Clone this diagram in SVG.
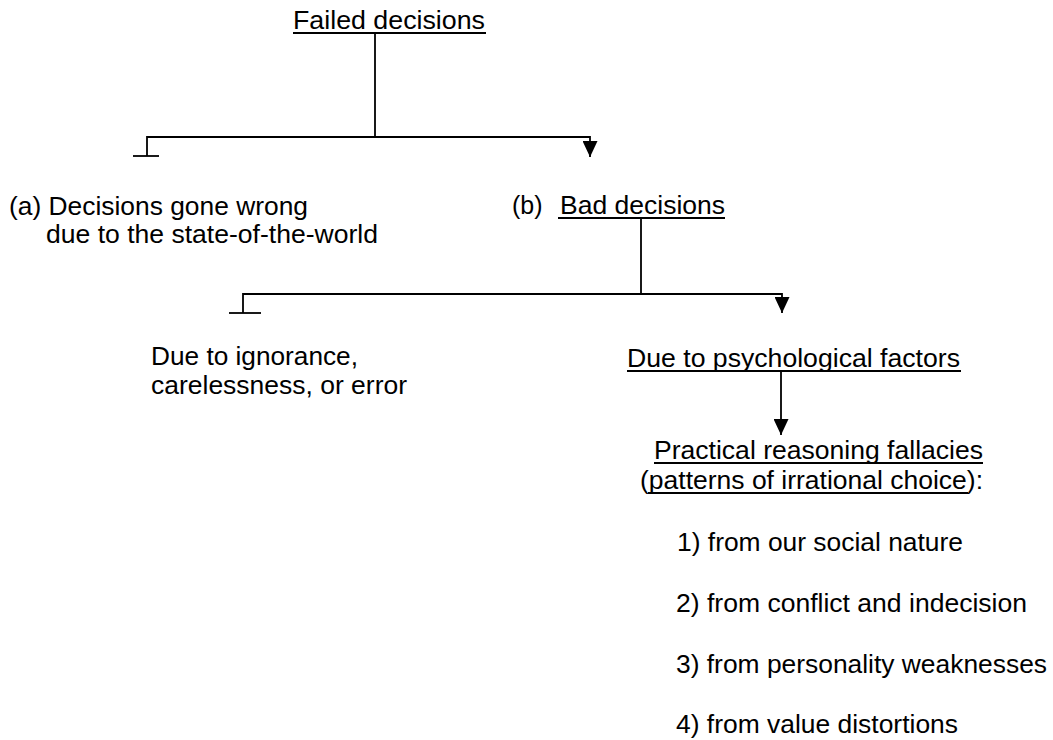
<svg xmlns="http://www.w3.org/2000/svg" width="1053" height="740" viewBox="0 0 1053 740">
<style>
text { font-family: "Liberation Sans", Arial, sans-serif; font-size: 25px; fill: #000; }
.ln { fill: none; stroke: #000; stroke-width: 1.8; }
.ul { stroke: #000; stroke-width: 1.8; }
</style>
<defs>
<marker id="arrow" markerUnits="userSpaceOnUse" markerWidth="16" markerHeight="15" refX="16" refY="7.5" orient="auto">
<path d="M0,0 L16,7.5 L0,15 Z" fill="#000"/>
</marker>
</defs>
<g id="connectors">
<path class="ln" d="M375,33 V137"/>
<path class="ln" d="M375,137 H147 V156"/>
<path class="ln" d="M133,156 H159"/>
<path class="ln" d="M375,137 H590 V157" marker-end="url(#arrow)"/>
<path class="ln" d="M641,218 V294"/>
<path class="ln" d="M641,294 H243 V313"/>
<path class="ln" d="M229,313 H261"/>
<path class="ln" d="M641,294 H782 V313" marker-end="url(#arrow)"/>
<path class="ln" d="M781,371 V435" marker-end="url(#arrow)"/>
</g>
<g id="failed">
<text x="293" y="29" textLength="192" lengthAdjust="spacingAndGlyphs">Failed decisions</text>
<line class="ul" x1="293" y1="33" x2="486" y2="33"/>
</g>
<g id="wrong">
<text x="9" y="215" textLength="299" lengthAdjust="spacingAndGlyphs">(a) Decisions gone wrong</text>
<text x="46" y="243" textLength="332" lengthAdjust="spacingAndGlyphs">due to the state-of-the-world</text>
</g>
<g id="bad">
<text x="512" y="214">(b)<tspan x="560" textLength="165" lengthAdjust="spacingAndGlyphs">Bad decisions</tspan></text>
<line class="ul" x1="558" y1="218" x2="725" y2="218"/>
</g>
<g id="ignorance">
<text x="151" y="365" textLength="207" lengthAdjust="spacingAndGlyphs">Due to ignorance,</text>
<text x="151" y="394" textLength="256" lengthAdjust="spacingAndGlyphs">carelessness, or error</text>
</g>
<g id="psych">
<text x="627" y="367" textLength="333" lengthAdjust="spacingAndGlyphs">Due to psychological factors</text>
<line class="ul" x1="627" y1="371" x2="961" y2="371"/>
</g>
<g id="fallacies">
<text x="654" y="459" textLength="329" lengthAdjust="spacingAndGlyphs">Practical reasoning fallacies</text>
<line class="ul" x1="654" y1="463" x2="983" y2="463"/>
<text x="640" y="489" textLength="343" lengthAdjust="spacingAndGlyphs">(patterns of irrational choice):</text>
<line class="ul" x1="648" y1="493" x2="968" y2="493"/>
<text x="677" y="551" textLength="286" lengthAdjust="spacingAndGlyphs">1) from our social nature</text>
<text x="676" y="612" textLength="351" lengthAdjust="spacingAndGlyphs">2) from conflict and indecision</text>
<text x="676" y="673" textLength="371" lengthAdjust="spacingAndGlyphs">3) from personality weaknesses</text>
<text x="676" y="733" textLength="282" lengthAdjust="spacingAndGlyphs">4) from value distortions</text>
</g>
</svg>
